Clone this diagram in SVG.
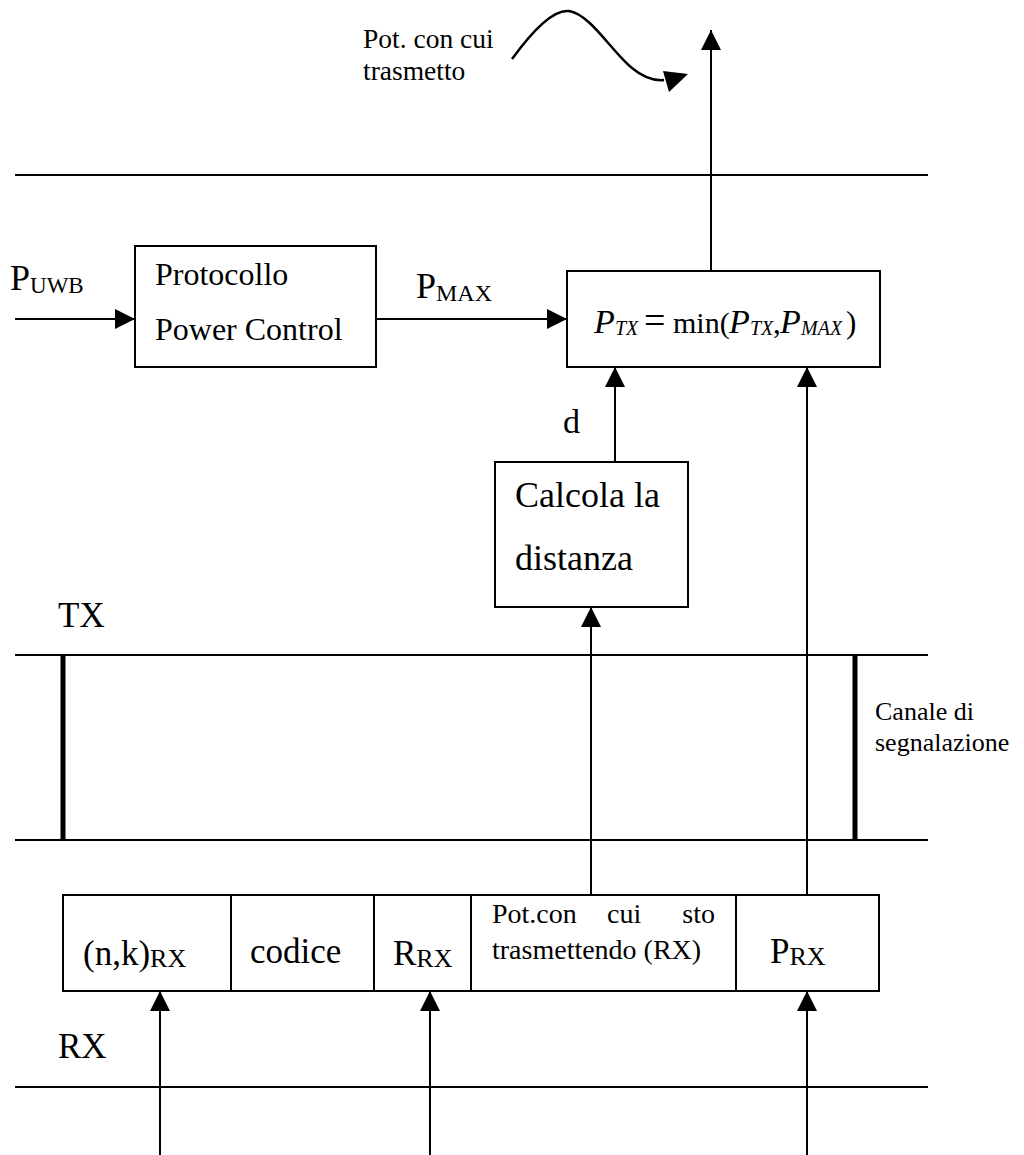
<svg xmlns="http://www.w3.org/2000/svg" width="1024" height="1155" viewBox="0 0 1024 1155">
<style>
text{font-family:"Liberation Serif","Times New Roman",serif;fill:#000}
.ln{stroke:#000;stroke-width:2;fill:none}
.ar{stroke:#000;stroke-width:2;fill:none;marker-end:url(#ah)}
.box{stroke:#000;stroke-width:2;fill:#fff}
.bar{stroke:#000;stroke-width:5}
.it{font-style:italic}
</style>
<defs>
<marker id="ah" markerUnits="userSpaceOnUse" markerWidth="20" markerHeight="20" refX="20" refY="10" orient="auto" viewBox="0 0 20 20">
<path d="M0,0 L20,10 L0,20 z" fill="#000"/>
</marker>
</defs>
<rect width="1024" height="1155" fill="#fff"/>

<g id="layers">
<line class="ln" x1="15" y1="175" x2="928" y2="175"/>
<line class="ln" x1="15" y1="655" x2="928" y2="655"/>
<line class="ln" x1="15" y1="840" x2="928" y2="840"/>
<line class="ln" x1="15" y1="1087" x2="928" y2="1087"/>
<line class="bar" x1="63" y1="655" x2="63" y2="840"/>
<line class="bar" x1="855" y1="655" x2="855" y2="840"/>
<text x="58" y="627" font-size="35">TX</text>
<text x="58" y="1058" font-size="35">RX</text>
<text x="875" y="720" font-size="26">Canale di</text>
<text x="875" y="751" font-size="26">segnalazione</text>
</g>

<g id="connectors">
<line class="ar" x1="15" y1="319" x2="135" y2="319"/>
<line class="ar" x1="376" y1="319" x2="567" y2="319"/>
<line class="ar" x1="711" y1="271" x2="711" y2="30"/>
<line class="ar" x1="615" y1="462" x2="615" y2="367"/>
<line class="ar" x1="591" y1="895" x2="591" y2="607"/>
<line class="ar" x1="807" y1="895" x2="807" y2="367"/>
<line class="ar" x1="160" y1="1155" x2="160" y2="991"/>
<line class="ar" x1="430" y1="1155" x2="430" y2="991"/>
<line class="ar" x1="807" y1="1155" x2="807" y2="991"/>
<path d="M512,59 C533,30 553,9 569,11 C590,14 612,52 632,68 C644,78 654,81 664,80" fill="none" stroke="#000" stroke-width="2.5"/>
<polygon points="663,71 688,74 669,92" fill="#000"/>
</g>

<g id="labels">
<text x="363" y="48" font-size="27.5">Pot. con cui</text>
<text x="363" y="80" font-size="27.5">trasmetto</text>
<text x="10" y="290" font-size="36">P<tspan font-size="23" dy="3">UWB</tspan></text>
<text x="416" y="298" font-size="36">P<tspan font-size="24" dy="3">MAX</tspan></text>
<text x="563" y="433" font-size="34">d</text>
</g>

<g id="protocollo">
<rect class="box" x="135" y="246" width="241" height="121"/>
<text x="155" y="285" font-size="32">Protocollo</text>
<text x="155" y="340" font-size="32">Power Control</text>
</g>

<g id="formula">
<rect class="box" x="567" y="271" width="313" height="96"/>
<text y="333" font-size="34"><tspan x="594" class="it">P</tspan><tspan x="615" y="335" font-size="20" class="it">TX</tspan><tspan x="644" y="333" font-size="38">=</tspan><tspan x="673" y="333" font-size="30">min(</tspan><tspan x="729" y="333" class="it">P</tspan><tspan x="750" y="335" font-size="20" class="it">TX</tspan><tspan x="773" y="333" font-size="31">,</tspan><tspan x="780" y="333" class="it">P</tspan><tspan x="801" y="335" font-size="20" class="it">MAX</tspan><tspan x="846" y="333" font-size="31">)</tspan></text>
</g>

<g id="calcola">
<rect class="box" x="495" y="462" width="193" height="145"/>
<text x="515" y="507" font-size="36">Calcola la</text>
<text x="515" y="570" font-size="36">distanza</text>
</g>

<g id="frame">
<rect class="box" x="63" y="895" width="816" height="96"/>
<line class="ln" x1="231" y1="895" x2="231" y2="991"/>
<line class="ln" x1="374" y1="895" x2="374" y2="991"/>
<line class="ln" x1="471" y1="895" x2="471" y2="991"/>
<line class="ln" x1="736" y1="895" x2="736" y2="991"/>
<text x="83" y="965" font-size="35">(n,k)<tspan font-size="26" dy="2">RX</tspan></text>
<text x="250" y="963" font-size="35">codice</text>
<text x="393" y="965" font-size="35">R<tspan font-size="26" dy="2">RX</tspan></text>
<text x="492" y="923" font-size="28">Pot.con</text>
<text x="607" y="923" font-size="28">cui</text>
<text x="715" y="923" font-size="28" text-anchor="end">sto</text>
<text x="492" y="959" font-size="28">trasmettendo (RX)</text>
<text x="770" y="963" font-size="35">P<tspan font-size="26" dy="2">RX</tspan></text>
</g>
</svg>
